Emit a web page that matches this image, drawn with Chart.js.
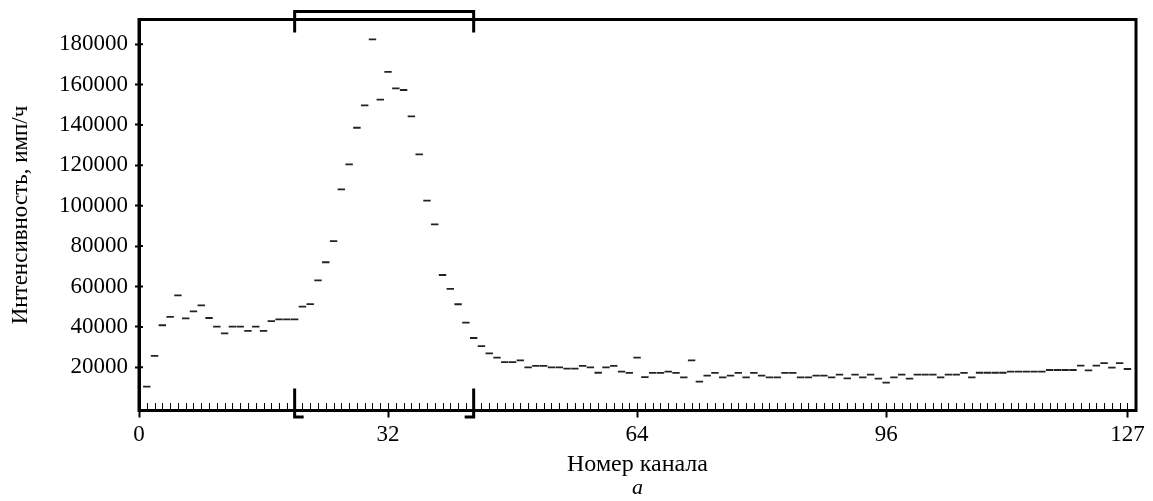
<!DOCTYPE html>
<html>
<head>
<meta charset="utf-8">
<script src="https://cdn.jsdelivr.net/npm/chart.js"></script>
<style>
  html, body { margin: 0; padding: 0; background: #fff; }
  #wrap { width: 1153px; height: 501px; position: relative; }
</style>
</head>
<body>
<div id="wrap"><canvas id="spectrum"></canvas></div>
<script>
// channel counts, index = channel number (0..127)
const counts = [
  null, 10400, 25600, 40800, 45000, 55600, 44250, 47700, 50700, 44400, 40100,
  36800, 40100, 40100, 38000, 40100, 38000, 42900, 43750, 43750, 43750,
  50000, 51300, 63000, 72000, 82500, 108100, 120500, 138600, 149700, 182400,
  152500, 166300, 158100, 157300, 144200, 125400, 102500, 90800, 65700, 58800,
  51200, 42100, 34500, 30500, 26900, 24750, 22600, 22600, 23450, 20000,
  20650, 20650, 20000, 20000, 19300, 19300, 20650, 20000, 17300, 20000,
  20650, 17800, 17200, 24750, 15100, 17200, 17200, 17800, 17200, 15050,
  23450, 12900, 15850, 17200, 15050, 15850, 17200, 15050, 17200, 15850,
  15050, 15050, 17200, 17200, 15050, 15050, 15850, 15850, 15050, 16350,
  14550, 16350, 15050, 16350, 14350, 12400, 15050, 16350, 14350, 16350,
  16350, 16350, 15050, 16350, 16350, 17200, 15050, 17300, 17300, 17300,
  17300, 17800, 17800, 17800, 17800, 17800, 18650, 18650, 18650, 18650,
  20800, 18500, 20800, 22100, 19800, 22100, 19150
];
const channels = counts.map((_, i) => i);

const xTicks = [0, 32, 64, 96, 127];
const yTicks = [20000, 40000, 60000, 80000, 100000, 120000, 140000, 160000, 180000];

// region of interest markers (channel numbers)
const roiStart = 20;
const roiEnd = 43;

const FONT = "'Liberation Serif', 'Times New Roman', serif";

const points = channels
  .filter(c => counts[c] !== null)
  .map(c => ({ x: c, y: counts[c] }));

const framePlugin = {
  id: 'frame',
  afterDraw(chart) {
    const { ctx, chartArea: a, scales: { x, y } } = chart;
    ctx.save();
    ctx.strokeStyle = '#000';
    ctx.lineCap = 'butt';

    // small ticks for every channel, pointing into the plot
    ctx.lineWidth = 1;
    ctx.beginPath();
    channels.forEach(c => {
      const px = Math.round(x.getPixelForValue(c)) + 0.5;
      ctx.moveTo(px, a.bottom);
      ctx.lineTo(px, a.bottom - 7.5);
    });
    ctx.stroke();

    // inner part of the y tick marks
    ctx.lineWidth = 2;
    ctx.beginPath();
    yTicks.forEach(v => {
      const py = y.getPixelForValue(v);
      ctx.moveTo(a.left, py);
      ctx.lineTo(a.left + 4, py);
    });
    ctx.stroke();

    // frame
    ctx.lineWidth = 3;
    ctx.strokeRect(a.left, a.top, a.right - a.left, a.bottom - a.top);

    // ROI brackets
    const x1 = x.getPixelForValue(roiStart);
    const x2 = x.getPixelForValue(roiEnd);
    ctx.lineWidth = 3;
    ctx.beginPath();
    ctx.moveTo(x1, a.top + 13);
    ctx.lineTo(x1, a.top - 8);
    ctx.lineTo(x2, a.top - 8);
    ctx.lineTo(x2, a.top + 13);
    ctx.stroke();

    ctx.beginPath();
    ctx.moveTo(x1, a.bottom - 22);
    ctx.lineTo(x1, a.bottom + 6.5);
    ctx.lineTo(x1 + 9, a.bottom + 6.5);
    ctx.moveTo(x2, a.bottom - 22);
    ctx.lineTo(x2, a.bottom + 6.5);
    ctx.lineTo(x2 - 9, a.bottom + 6.5);
    ctx.stroke();
    ctx.restore();
  }
};

new Chart(document.getElementById('spectrum'), {
  type: 'scatter',
  data: {
    datasets: [{
      data: points,
      showLine: false,
      pointStyle: 'line',
      pointRadius: 3.7,
      pointHoverRadius: 3.7,
      borderColor: '#222',
      backgroundColor: '#222',
      borderWidth: 1.8
    }]
  },
  options: {
    responsive: true,
    maintainAspectRatio: false,
    animation: false,
    events: [],
    layout: {
      padding: { left: 0, right: 17, top: 19.5, bottom: 0 }
    },
    plugins: {
      legend: { display: false },
      tooltip: { enabled: false },
      title: {
        display: true,
        position: 'bottom',
        fullSize: false,
        text: 'а',
        color: '#000',
        font: { family: FONT, size: 22, style: 'italic', weight: 'normal' },
        padding: 0
      }
    },
    scales: {
      x: {
        type: 'linear',
        min: 0,
        max: 128.1,
        afterBuildTicks: scale => {
          scale.ticks = xTicks.map(v => ({ value: v }));
        },
        afterFit: scale => {
          scale.height = 64.1;
          scale.paddingLeft = 0;
          scale.paddingRight = 0;
        },
        ticks: {
          color: '#000',
          font: { family: FONT, size: 23 },
          padding: 4,
          maxRotation: 0,
          autoSkip: false,
          callback: v => String(v)
        },
        grid: {
          drawOnChartArea: false,
          color: '#000',
          tickLength: 7,
          tickWidth: 2
        },
        border: { display: true, color: '#000', width: 3 },
        title: {
          display: true,
          text: 'Номер канала',
          color: '#000',
          font: { family: FONT, size: 24, lineHeight: 0.85 },
          padding: 0
        }
      },
      y: {
        type: 'linear',
        min: -1400,
        max: 192200,
        afterBuildTicks: scale => {
          scale.ticks = yTicks.map(v => ({ value: v }));
        },
        afterFit: scale => {
          scale.width = 139;
          scale.paddingTop = 0;
          scale.paddingBottom = 0;
        },
        ticks: {
          color: '#000',
          font: { family: FONT, size: 23 },
          padding: 7,
          callback: v => String(v)
        },
        grid: {
          drawOnChartArea: false,
          color: '#000',
          tickLength: 4,
          tickWidth: 2
        },
        border: { display: true, color: '#000', width: 3 },
        title: {
          display: true,
          text: 'Интенсивность, имп/ч',
          color: '#000',
          font: { family: FONT, size: 23 },
          padding: { top: 7, bottom: 0 }
        }
      }
    }
  },
  plugins: [framePlugin]
});
</script>
</body>
</html>
